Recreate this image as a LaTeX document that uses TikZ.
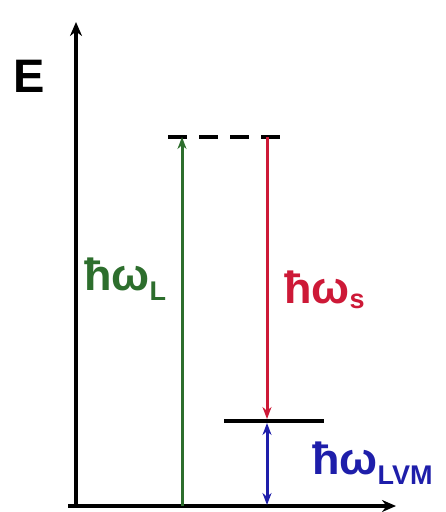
\documentclass[tikz,border=0pt]{standalone}
\usepackage{fontspec}
\setmainfont{Liberation Sans}
\usetikzlibrary{arrows.meta}
\definecolor{lgreen}{RGB}{45,110,45}
\definecolor{lred}{RGB}{205,25,55}
\definecolor{lblue}{RGB}{30,30,170}
\begin{document}
\begin{tikzpicture}[x=1pt,y=-1pt,
  axis/.style={line width=4pt,-{Stealth[length=14pt,width=12pt]}},
  level/.style={line width=3.5pt},
  trans/.style={line width=3pt,-{Stealth[length=12pt,width=9pt]}},
  lab/.style={font=\fontsize{45}{45}\selectfont\bfseries,inner sep=0pt,anchor=base west}]
\useasboundingbox (0,0) rectangle (446,512);
\coordinate (o) at (76,506);
\coordinate (ytop) at (76,22);
\coordinate (xl) at (68,506);
\coordinate (xr) at (396,506);
\draw[axis] (o) -- (ytop);
\draw[axis] (xl) -- (xr);
\node[font=\fontsize{47}{47}\selectfont\bfseries,inner sep=0pt] (E) at (29,76) {E};
\coordinate (vl) at (168,137);
\coordinate (vr) at (282,137);
\draw[level,dash pattern=on 19pt off 12pt] (vl) -- (vr);
\coordinate (gl) at (224,421);
\coordinate (gr) at (324,421);
\draw[level] (gl) -- (gr);
\coordinate (g0) at (182,506);
\coordinate (g1) at (182,137);
\draw[trans,lgreen] (g0) -- (g1);
\coordinate (r0) at (267,137);
\coordinate (r1) at (267,419);
\draw[trans,lred] (r0) -- (r1);
\coordinate (b0) at (267,423);
\coordinate (b1) at (267,505);
\draw[line width=3pt,lblue,{Stealth[length=12pt,width=9pt]}-{Stealth[length=12pt,width=9pt]}] (b0) -- (b1);
\node[lab,text=lgreen] (wl) at (84,290) {ħω\textsubscript{\fontsize{27}{27}\selectfont L}};
\node[lab,text=lred] (ws) at (284,303) {ħω\textsubscript{\fontsize{27}{27}\selectfont s}};
\node[lab,text=lblue] (wv) at (312,474) {ħω\textsubscript{\fontsize{27}{27}\selectfont LVM}};
\end{tikzpicture}
\end{document}
